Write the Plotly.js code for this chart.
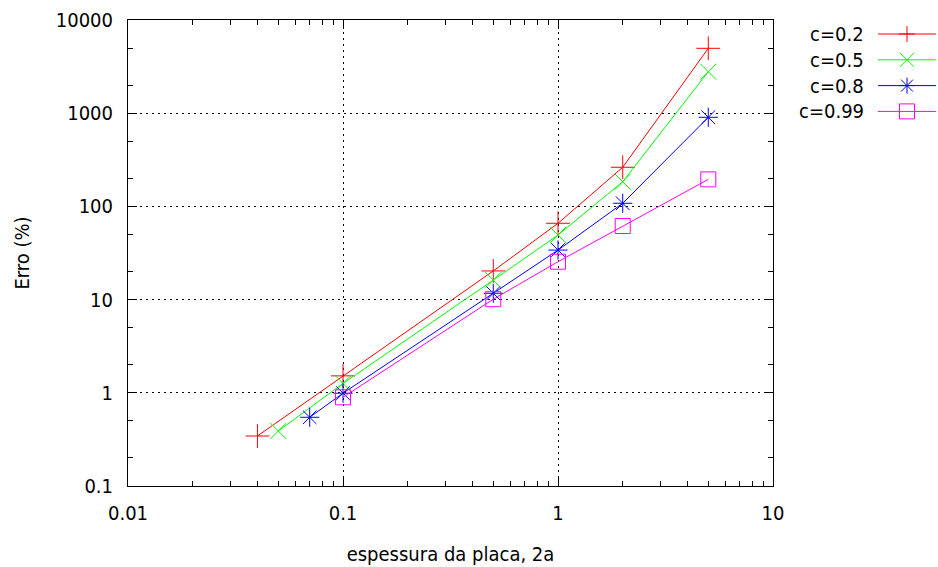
<!DOCTYPE html>
<html><head><meta charset="utf-8">
<script src="https://cdn.plot.ly/plotly-3.0.1.min.js"></script>
<style>html,body{margin:0;padding:0;background:#fff}#chart{width:938px;height:567px}</style>
</head><body><div id="chart"></div>
<script>
// ---- data ----
const seriesNames = ["c=0.2", "c=0.5", "c=0.8", "c=0.99"];
const c02_x = [0.04, 0.1, 0.5, 1, 2, 5];
const c02_y = [0.344, 1.52, 20.3, 65.9, 263, 4970];
const c05_x = [0.05, 0.1, 0.5, 1, 2, 5];
const c05_y = [0.389, 1.26, 16.2, 49.3, 184, 2790];
const c08_x = [0.07, 0.1, 0.5, 1, 2, 5];
const c08_y = [0.546, 0.99, 11.7, 34, 108, 904];
const c099_x = [0.1, 0.5, 1, 2, 5];
const c099_y = [0.895, 10.1, 25.5, 61.6, 195];
const xTickVals = [0.01, 0.1, 1, 10];
const xTickText = ["0.01", "0.1", "1", "10"];
const yTickVals = [0.1, 1, 10, 100, 1000, 10000];
const yTickText = ["0.1", "1", "10", "100", "1000", "10000"];
const xTitle = "espessura da placa, 2a";
const yTitle = "Erro (%)";

// ---- styles ----
const FONT = "'DejaVu Sans Condensed', 'DejaVu Sans', sans-serif";
const FS = 20;
const colors = ["#ff0000", "#00ff00", "#0000ff", "#ff00ff"];
const symbols = ["cross-thin-open", "x-thin-open", "asterisk-open", "square-open"];
const sizes = [17, 16, 16, 15];
const xs = [c02_x, c05_x, c08_x, c099_x];
const ys = [c02_y, c05_y, c08_y, c099_y];

const W = 938, H = 567, L = 128, R = 165, T = 20, B = 81;
const pw = W - L - R, ph = H - T - B;
const px = v => (v - L) / pw;
const py = v => (H - B - v) / ph;

const traces = seriesNames.map((n, i) => ({
  x: xs[i], y: ys[i], name: n, type: "scatter", mode: "lines+markers",
  line: {color: colors[i], width: 1},
  marker: {symbol: symbols[i], size: sizes[i], color: colors[i], line: {color: colors[i], width: 1}},
  showlegend: false, cliponaxis: false
}));

// manual gnuplot-style legend (text right-aligned, sample on the right)
const shapes = [], annotations = [];
const legY0 = 34, legDY = 25.8, textRight = 866, lineX0 = 878, lineX1 = 936, mX = 907;
function seg(x0, y0, x1, y1, c) {
  shapes.push({type: "line", xref: "paper", yref: "paper", x0: px(x0), y0: py(y0), x1: px(x1), y1: py(y1), line: {color: c, width: 1}});
}
seriesNames.forEach((n, i) => {
  const y = legY0 + legDY * i, c = colors[i];
  annotations.push({xref: "paper", yref: "paper", x: px(textRight), y: py(y), xanchor: "right", yanchor: "middle",
    text: n, showarrow: false, font: {family: FONT, size: FS, color: "#000"}});
  seg(lineX0, y, lineX1, y, c);
  if (i === 0) { seg(mX - 8, y, mX + 8, y, c); seg(mX, y - 8, mX, y + 8, c); }
  if (i === 1) { seg(mX - 7, y - 7, mX + 7, y + 7, c); seg(mX - 7, y + 7, mX + 7, y - 7, c); }
  if (i === 2) { seg(mX - 8, y, mX + 8, y, c); seg(mX, y - 8, mX, y + 8, c);
                 seg(mX - 6, y - 6, mX + 6, y + 6, c); seg(mX - 6, y + 6, mX + 6, y - 6, c); }
  if (i === 3) { shapes.push({type: "rect", xref: "paper", yref: "paper", x0: px(mX - 7.5), x1: px(mX + 7.5), y0: py(y - 7.5), y1: py(y + 7.5), line: {color: c, width: 1}}); }
});

const axisCommon = {
  type: "log", showline: true, linecolor: "#000", linewidth: 1, mirror: "allticks",
  ticks: "inside", ticklen: 9, tickcolor: "#000", tickwidth: 1,
  showgrid: true, gridcolor: "#000", gridwidth: 1, griddash: "2px,4px",
  zeroline: false, tickmode: "array",
  tickfont: {family: FONT, size: FS, color: "#000"}
};

const layout = {
  width: W, height: H,
  margin: {l: L, r: R, t: T, b: B, pad: 0},
  paper_bgcolor: "#fff", plot_bgcolor: "#fff",
  font: {family: FONT, size: FS, color: "#000"},
  xaxis: Object.assign({}, axisCommon, {
    range: [-2, 1], tickvals: xTickVals, ticktext: xTickText, ticklabelstandoff: 9,
    minor: {ticks: "inside", ticklen: 5, tickcolor: "#000", dtick: "D1", showgrid: false},
    title: {text: xTitle, font: {family: FONT, size: FS, color: "#000"}, standoff: 22}
  }),
  yaxis: Object.assign({}, axisCommon, {
    range: [-1, 4], tickvals: yTickVals, ticktext: yTickText, ticklabelstandoff: 10,
    minor: {ticks: "inside", ticklen: 5, tickcolor: "#000", dtick: "D2", showgrid: false},
    title: {text: yTitle, font: {family: FONT, size: FS, color: "#000"}, standoff: 20}
  }),
  showlegend: false,
  shapes: shapes, annotations: annotations
};

Plotly.newPlot("chart", traces, layout, {displayModeBar: false, staticPlot: true});
</script>
</body></html>
